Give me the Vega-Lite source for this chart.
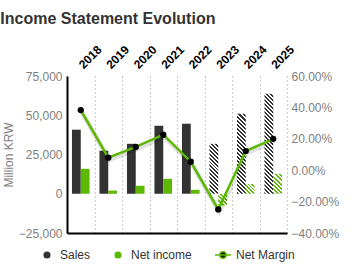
{
  "$schema": "https://vega.github.io/schema/vega-lite/v6.json",
  "width": 220,
  "height": 157,
  "autosize": "none",
  "padding": {"left": 67, "top": 76, "right": 65, "bottom": 34},
  "background": "white",
  "config": {"view": {"stroke": null}, "font": "Liberation Sans"},
  "title": {"text": "Income Statement Evolution", "anchor": "start", "frame": "bounds", "fontSize": 16, "fontWeight": "bold", "color": "#333333", "offset": 16, "dx": -2},
  "datasets": {
    "bars": [
      {"year": "2018", "series": "Sales", "value": 40800},
      {"year": "2018", "series": "Net income", "value": 15900},
      {"year": "2019", "series": "Sales", "value": 27400},
      {"year": "2019", "series": "Net income", "value": 2000},
      {"year": "2020", "series": "Sales", "value": 31800},
      {"year": "2020", "series": "Net income", "value": 5100},
      {"year": "2021", "series": "Sales", "value": 43300},
      {"year": "2021", "series": "Net income", "value": 9500},
      {"year": "2022", "series": "Sales", "value": 44600},
      {"year": "2022", "series": "Net income", "value": 2500},
      {"year": "2023", "series": "Sales", "value": 31800},
      {"year": "2023", "series": "Net income", "value": -7400},
      {"year": "2024", "series": "Sales", "value": 51000},
      {"year": "2024", "series": "Net income", "value": 6200},
      {"year": "2025", "series": "Sales", "value": 63700},
      {"year": "2025", "series": "Net income", "value": 12700}
    ],
    "margin": [
      {"year": "2018", "margin": 0.383},
      {"year": "2019", "margin": 0.08},
      {"year": "2020", "margin": 0.148},
      {"year": "2021", "margin": 0.226},
      {"year": "2022", "margin": 0.054},
      {"year": "2023", "margin": -0.25},
      {"year": "2024", "margin": 0.122},
      {"year": "2025", "margin": 0.2}
    ]
  },
  "layer": [
    {
      "data": {"name": "bars"},
      "mark": {"type": "bar"},
      "encoding": {
        "x": {"field": "year", "type": "ordinal", "scale": {"paddingInner": 0, "paddingOuter": 0},
          "axis": {"orient": "top", "title": null, "labelAngle": -45, "labelFontWeight": "bold", "labelFontSize": 12, "labelColor": "#000000", "domain": false, "ticks": false, "tickSize": 0, "labelPadding": 5, "labelOffset": 5, "grid": false}},
        "xOffset": {"field": "series", "scale": {"domain": ["Sales", "Net income"], "paddingInner": 0, "paddingOuter": 0.5625}},
        "y": {"field": "value", "type": "quantitative", "scale": {"domain": [-25000, 75000], "nice": false, "zero": false},
          "axis": {"orient": "left", "title": "Million KRW", "values": [-25000, 0, 25000, 50000, 75000], "format": ",.0f", "labelFontSize": 12, "labelColor": "#808080", "titleColor": "#808080", "titleFontWeight": "normal", "titleFontSize": 12, "titlePadding": 3, "ticks": false, "labelPadding": 5, "domainColor": "#000000", "domainWidth": 2, "grid": false}},
        "fill": {
          "field": "series", "type": "nominal",
          "scale": {"domain": ["Sales", "Net income", "Net Margin"], "range": ["#333333", "#5cb800", "#000000"]},
          "legend": {"orient": "none", "legendX": -26, "legendY": 173, "direction": "horizontal", "gridAlign": "none", "title": null, "labelFontSize": 12, "labelColor": "#333333", "symbolSize": 256, "labelOffset": 7, "columnPadding": 20,
            "encode": {"symbols": {"update": {
              "shape": {"signal": "datum.value === 'Net Margin' ? 'M-1,0L1,0M-0.4,0A0.4,0.4,0,1,1,0.4,0A0.4,0.4,0,1,1,-0.4,0' : 'circle'"},
              "size": {"signal": "datum.value === 'Net Margin' ? 256 : 50"},
              "stroke": {"signal": "datum.value === 'Net Margin' ? '#5cb800' : 'transparent'"},
              "strokeWidth": {"value": 1.5}
            }}}},
          "condition": [
            {"test": "datum.year === '2023' && datum.series === 'Sales'", "value": {"gradient": "linear", "x1": 0, "y1": 1, "x2": 0.2012, "y2": -0.1409, "stops": [{"offset":0,"color":"#333"},{"offset":0.0333,"color":"#333"},{"offset":0.0333,"color":"#fff"},{"offset":0.0667,"color":"#fff"},{"offset":0.0667,"color":"#333"},{"offset":0.1,"color":"#333"},{"offset":0.1,"color":"#fff"},{"offset":0.1333,"color":"#fff"},{"offset":0.1333,"color":"#333"},{"offset":0.1667,"color":"#333"},{"offset":0.1667,"color":"#fff"},{"offset":0.2,"color":"#fff"},{"offset":0.2,"color":"#333"},{"offset":0.2333,"color":"#333"},{"offset":0.2333,"color":"#fff"},{"offset":0.2667,"color":"#fff"},{"offset":0.2667,"color":"#333"},{"offset":0.3,"color":"#333"},{"offset":0.3,"color":"#fff"},{"offset":0.3333,"color":"#fff"},{"offset":0.3333,"color":"#333"},{"offset":0.3667,"color":"#333"},{"offset":0.3667,"color":"#fff"},{"offset":0.4,"color":"#fff"},{"offset":0.4,"color":"#333"},{"offset":0.4333,"color":"#333"},{"offset":0.4333,"color":"#fff"},{"offset":0.4667,"color":"#fff"},{"offset":0.4667,"color":"#333"},{"offset":0.5,"color":"#333"},{"offset":0.5,"color":"#fff"},{"offset":0.5333,"color":"#fff"},{"offset":0.5333,"color":"#333"},{"offset":0.5667,"color":"#333"},{"offset":0.5667,"color":"#fff"},{"offset":0.6,"color":"#fff"},{"offset":0.6,"color":"#333"},{"offset":0.6333,"color":"#333"},{"offset":0.6333,"color":"#fff"},{"offset":0.6667,"color":"#fff"},{"offset":0.6667,"color":"#333"},{"offset":0.7,"color":"#333"},{"offset":0.7,"color":"#fff"},{"offset":0.7333,"color":"#fff"},{"offset":0.7333,"color":"#333"},{"offset":0.7667,"color":"#333"},{"offset":0.7667,"color":"#fff"},{"offset":0.8,"color":"#fff"},{"offset":0.8,"color":"#333"},{"offset":0.8333,"color":"#333"},{"offset":0.8333,"color":"#fff"},{"offset":0.8667,"color":"#fff"},{"offset":0.8667,"color":"#333"},{"offset":0.9,"color":"#333"},{"offset":0.9,"color":"#fff"},{"offset":0.9333,"color":"#fff"},{"offset":0.9333,"color":"#333"},{"offset":0.9667,"color":"#333"},{"offset":0.9667,"color":"#fff"},{"offset":1,"color":"#fff"}]}},
            {"test": "datum.year === '2024' && datum.series === 'Sales'", "value": {"gradient": "linear", "x1": 0, "y1": 1, "x2": 0.1205, "y2": -0.0966, "stops": [{"offset":0,"color":"#333"},{"offset":0.0227,"color":"#333"},{"offset":0.0227,"color":"#fff"},{"offset":0.0455,"color":"#fff"},{"offset":0.0455,"color":"#333"},{"offset":0.0682,"color":"#333"},{"offset":0.0682,"color":"#fff"},{"offset":0.0909,"color":"#fff"},{"offset":0.0909,"color":"#333"},{"offset":0.1136,"color":"#333"},{"offset":0.1136,"color":"#fff"},{"offset":0.1364,"color":"#fff"},{"offset":0.1364,"color":"#333"},{"offset":0.1591,"color":"#333"},{"offset":0.1591,"color":"#fff"},{"offset":0.1818,"color":"#fff"},{"offset":0.1818,"color":"#333"},{"offset":0.2045,"color":"#333"},{"offset":0.2045,"color":"#fff"},{"offset":0.2273,"color":"#fff"},{"offset":0.2273,"color":"#333"},{"offset":0.25,"color":"#333"},{"offset":0.25,"color":"#fff"},{"offset":0.2727,"color":"#fff"},{"offset":0.2727,"color":"#333"},{"offset":0.2955,"color":"#333"},{"offset":0.2955,"color":"#fff"},{"offset":0.3182,"color":"#fff"},{"offset":0.3182,"color":"#333"},{"offset":0.3409,"color":"#333"},{"offset":0.3409,"color":"#fff"},{"offset":0.3636,"color":"#fff"},{"offset":0.3636,"color":"#333"},{"offset":0.3864,"color":"#333"},{"offset":0.3864,"color":"#fff"},{"offset":0.4091,"color":"#fff"},{"offset":0.4091,"color":"#333"},{"offset":0.4318,"color":"#333"},{"offset":0.4318,"color":"#fff"},{"offset":0.4545,"color":"#fff"},{"offset":0.4545,"color":"#333"},{"offset":0.4773,"color":"#333"},{"offset":0.4773,"color":"#fff"},{"offset":0.5,"color":"#fff"},{"offset":0.5,"color":"#333"},{"offset":0.5227,"color":"#333"},{"offset":0.5227,"color":"#fff"},{"offset":0.5455,"color":"#fff"},{"offset":0.5455,"color":"#333"},{"offset":0.5682,"color":"#333"},{"offset":0.5682,"color":"#fff"},{"offset":0.5909,"color":"#fff"},{"offset":0.5909,"color":"#333"},{"offset":0.6136,"color":"#333"},{"offset":0.6136,"color":"#fff"},{"offset":0.6364,"color":"#fff"},{"offset":0.6364,"color":"#333"},{"offset":0.6591,"color":"#333"},{"offset":0.6591,"color":"#fff"},{"offset":0.6818,"color":"#fff"},{"offset":0.6818,"color":"#333"},{"offset":0.7045,"color":"#333"},{"offset":0.7045,"color":"#fff"},{"offset":0.7273,"color":"#fff"},{"offset":0.7273,"color":"#333"},{"offset":0.75,"color":"#333"},{"offset":0.75,"color":"#fff"},{"offset":0.7727,"color":"#fff"},{"offset":0.7727,"color":"#333"},{"offset":0.7955,"color":"#333"},{"offset":0.7955,"color":"#fff"},{"offset":0.8182,"color":"#fff"},{"offset":0.8182,"color":"#333"},{"offset":0.8409,"color":"#333"},{"offset":0.8409,"color":"#fff"},{"offset":0.8636,"color":"#fff"},{"offset":0.8636,"color":"#333"},{"offset":0.8864,"color":"#333"},{"offset":0.8864,"color":"#fff"},{"offset":0.9091,"color":"#fff"},{"offset":0.9091,"color":"#333"},{"offset":0.9318,"color":"#333"},{"offset":0.9318,"color":"#fff"},{"offset":0.9545,"color":"#fff"},{"offset":0.9545,"color":"#333"},{"offset":0.9773,"color":"#333"},{"offset":0.9773,"color":"#fff"},{"offset":1,"color":"#fff"}]}},
            {"test": "datum.year === '2025' && datum.series === 'Sales'", "value": {"gradient": "linear", "x1": 0, "y1": 1, "x2": 0.095, "y2": -0.0797, "stops": [{"offset":0,"color":"#333"},{"offset":0.0185,"color":"#333"},{"offset":0.0185,"color":"#fff"},{"offset":0.037,"color":"#fff"},{"offset":0.037,"color":"#333"},{"offset":0.0556,"color":"#333"},{"offset":0.0556,"color":"#fff"},{"offset":0.0741,"color":"#fff"},{"offset":0.0741,"color":"#333"},{"offset":0.0926,"color":"#333"},{"offset":0.0926,"color":"#fff"},{"offset":0.1111,"color":"#fff"},{"offset":0.1111,"color":"#333"},{"offset":0.1296,"color":"#333"},{"offset":0.1296,"color":"#fff"},{"offset":0.1481,"color":"#fff"},{"offset":0.1481,"color":"#333"},{"offset":0.1667,"color":"#333"},{"offset":0.1667,"color":"#fff"},{"offset":0.1852,"color":"#fff"},{"offset":0.1852,"color":"#333"},{"offset":0.2037,"color":"#333"},{"offset":0.2037,"color":"#fff"},{"offset":0.2222,"color":"#fff"},{"offset":0.2222,"color":"#333"},{"offset":0.2407,"color":"#333"},{"offset":0.2407,"color":"#fff"},{"offset":0.2593,"color":"#fff"},{"offset":0.2593,"color":"#333"},{"offset":0.2778,"color":"#333"},{"offset":0.2778,"color":"#fff"},{"offset":0.2963,"color":"#fff"},{"offset":0.2963,"color":"#333"},{"offset":0.3148,"color":"#333"},{"offset":0.3148,"color":"#fff"},{"offset":0.3333,"color":"#fff"},{"offset":0.3333,"color":"#333"},{"offset":0.3519,"color":"#333"},{"offset":0.3519,"color":"#fff"},{"offset":0.3704,"color":"#fff"},{"offset":0.3704,"color":"#333"},{"offset":0.3889,"color":"#333"},{"offset":0.3889,"color":"#fff"},{"offset":0.4074,"color":"#fff"},{"offset":0.4074,"color":"#333"},{"offset":0.4259,"color":"#333"},{"offset":0.4259,"color":"#fff"},{"offset":0.4444,"color":"#fff"},{"offset":0.4444,"color":"#333"},{"offset":0.463,"color":"#333"},{"offset":0.463,"color":"#fff"},{"offset":0.4815,"color":"#fff"},{"offset":0.4815,"color":"#333"},{"offset":0.5,"color":"#333"},{"offset":0.5,"color":"#fff"},{"offset":0.5185,"color":"#fff"},{"offset":0.5185,"color":"#333"},{"offset":0.537,"color":"#333"},{"offset":0.537,"color":"#fff"},{"offset":0.5556,"color":"#fff"},{"offset":0.5556,"color":"#333"},{"offset":0.5741,"color":"#333"},{"offset":0.5741,"color":"#fff"},{"offset":0.5926,"color":"#fff"},{"offset":0.5926,"color":"#333"},{"offset":0.6111,"color":"#333"},{"offset":0.6111,"color":"#fff"},{"offset":0.6296,"color":"#fff"},{"offset":0.6296,"color":"#333"},{"offset":0.6481,"color":"#333"},{"offset":0.6481,"color":"#fff"},{"offset":0.6667,"color":"#fff"},{"offset":0.6667,"color":"#333"},{"offset":0.6852,"color":"#333"},{"offset":0.6852,"color":"#fff"},{"offset":0.7037,"color":"#fff"},{"offset":0.7037,"color":"#333"},{"offset":0.7222,"color":"#333"},{"offset":0.7222,"color":"#fff"},{"offset":0.7407,"color":"#fff"},{"offset":0.7407,"color":"#333"},{"offset":0.7593,"color":"#333"},{"offset":0.7593,"color":"#fff"},{"offset":0.7778,"color":"#fff"},{"offset":0.7778,"color":"#333"},{"offset":0.7963,"color":"#333"},{"offset":0.7963,"color":"#fff"},{"offset":0.8148,"color":"#fff"},{"offset":0.8148,"color":"#333"},{"offset":0.8333,"color":"#333"},{"offset":0.8333,"color":"#fff"},{"offset":0.8519,"color":"#fff"},{"offset":0.8519,"color":"#333"},{"offset":0.8704,"color":"#333"},{"offset":0.8704,"color":"#fff"},{"offset":0.8889,"color":"#fff"},{"offset":0.8889,"color":"#333"},{"offset":0.9074,"color":"#333"},{"offset":0.9074,"color":"#fff"},{"offset":0.9259,"color":"#fff"},{"offset":0.9259,"color":"#333"},{"offset":0.9444,"color":"#333"},{"offset":0.9444,"color":"#fff"},{"offset":0.963,"color":"#fff"},{"offset":0.963,"color":"#333"},{"offset":0.9815,"color":"#333"},{"offset":0.9815,"color":"#fff"},{"offset":1,"color":"#fff"}]}},
            {"test": "datum.year === '2023' && datum.series === 'Net income'", "value": {"gradient": "linear", "x1": 0, "y1": 1, "x2": 0.8468, "y2": -0.1162, "stops": [{"offset":0,"color":"#5cb800"},{"offset":0.1,"color":"#5cb800"},{"offset":0.1,"color":"#fff"},{"offset":0.2,"color":"#fff"},{"offset":0.2,"color":"#5cb800"},{"offset":0.3,"color":"#5cb800"},{"offset":0.3,"color":"#fff"},{"offset":0.4,"color":"#fff"},{"offset":0.4,"color":"#5cb800"},{"offset":0.5,"color":"#5cb800"},{"offset":0.5,"color":"#fff"},{"offset":0.6,"color":"#fff"},{"offset":0.6,"color":"#5cb800"},{"offset":0.7,"color":"#5cb800"},{"offset":0.7,"color":"#fff"},{"offset":0.8,"color":"#fff"},{"offset":0.8,"color":"#5cb800"},{"offset":0.9,"color":"#5cb800"},{"offset":0.9,"color":"#fff"},{"offset":1,"color":"#fff"}]}},
            {"test": "datum.year === '2024' && datum.series === 'Net income'", "value": {"gradient": "linear", "x1": 0, "y1": 1, "x2": 0.9491, "y2": -0.0462, "stops": [{"offset":0,"color":"#5cb800"},{"offset":0.1,"color":"#5cb800"},{"offset":0.1,"color":"#fff"},{"offset":0.2,"color":"#fff"},{"offset":0.2,"color":"#5cb800"},{"offset":0.3,"color":"#5cb800"},{"offset":0.3,"color":"#fff"},{"offset":0.4,"color":"#fff"},{"offset":0.4,"color":"#5cb800"},{"offset":0.5,"color":"#5cb800"},{"offset":0.5,"color":"#fff"},{"offset":0.6,"color":"#fff"},{"offset":0.6,"color":"#5cb800"},{"offset":0.7,"color":"#5cb800"},{"offset":0.7,"color":"#fff"},{"offset":0.8,"color":"#fff"},{"offset":0.8,"color":"#5cb800"},{"offset":0.9,"color":"#5cb800"},{"offset":0.9,"color":"#fff"},{"offset":1,"color":"#fff"}]}},
            {"test": "datum.year === '2025' && datum.series === 'Net income'", "value": {"gradient": "linear", "x1": 0, "y1": 1, "x2": 0.5335, "y2": -0.2064, "stops": [{"offset":0,"color":"#5cb800"},{"offset":0.0714,"color":"#5cb800"},{"offset":0.0714,"color":"#fff"},{"offset":0.1429,"color":"#fff"},{"offset":0.1429,"color":"#5cb800"},{"offset":0.2143,"color":"#5cb800"},{"offset":0.2143,"color":"#fff"},{"offset":0.2857,"color":"#fff"},{"offset":0.2857,"color":"#5cb800"},{"offset":0.3571,"color":"#5cb800"},{"offset":0.3571,"color":"#fff"},{"offset":0.4286,"color":"#fff"},{"offset":0.4286,"color":"#5cb800"},{"offset":0.5,"color":"#5cb800"},{"offset":0.5,"color":"#fff"},{"offset":0.5714,"color":"#fff"},{"offset":0.5714,"color":"#5cb800"},{"offset":0.6429,"color":"#5cb800"},{"offset":0.6429,"color":"#fff"},{"offset":0.7143,"color":"#fff"},{"offset":0.7143,"color":"#5cb800"},{"offset":0.7857,"color":"#5cb800"},{"offset":0.7857,"color":"#fff"},{"offset":0.8571,"color":"#fff"},{"offset":0.8571,"color":"#5cb800"},{"offset":0.9286,"color":"#5cb800"},{"offset":0.9286,"color":"#fff"},{"offset":1,"color":"#fff"}]}}
          ]
        }
      }
    },
    {
      "data": {"name": "margin"},
      "mark": {"type": "line", "color": "#000000", "opacity": 0.12, "strokeWidth": 5, "xOffset": 1, "yOffset": 2},
      "encoding": {
        "x": {"field": "year", "type": "ordinal",
          "axis": {"orient": "bottom", "title": null, "labels": false, "ticks": false, "domainColor": "#000000", "domainWidth": 2, "grid": true, "gridDash": [1, 3], "gridColor": "#999999", "gridWidth": 1, "tickBand": "extent"}},
        "y": {"field": "margin", "type": "quantitative", "scale": {"domain": [-0.4, 0.6], "nice": false, "zero": false},
          "axis": {"orient": "right", "title": null, "values": [-0.4, -0.2, 0, 0.2, 0.4, 0.6], "format": ".2%", "labelFontSize": 12, "labelColor": "#808080", "domain": false, "ticks": false, "grid": false, "labelPadding": 4}}
      }
    },
    {
      "data": {"name": "margin"},
      "mark": {"type": "line", "color": "#5cb800", "strokeWidth": 2.5, "point": {"filled": true, "color": "#000000", "size": 40, "opacity": 1}},
      "encoding": {
        "x": {"field": "year", "type": "ordinal", "axis": null},
        "y": {"field": "margin", "type": "quantitative", "scale": {"domain": [-0.4, 0.6], "nice": false, "zero": false}, "axis": null}
      }
    }
  ],
  "resolve": {"scale": {"y": "independent"}, "axis": {"x": "independent"}}
}
